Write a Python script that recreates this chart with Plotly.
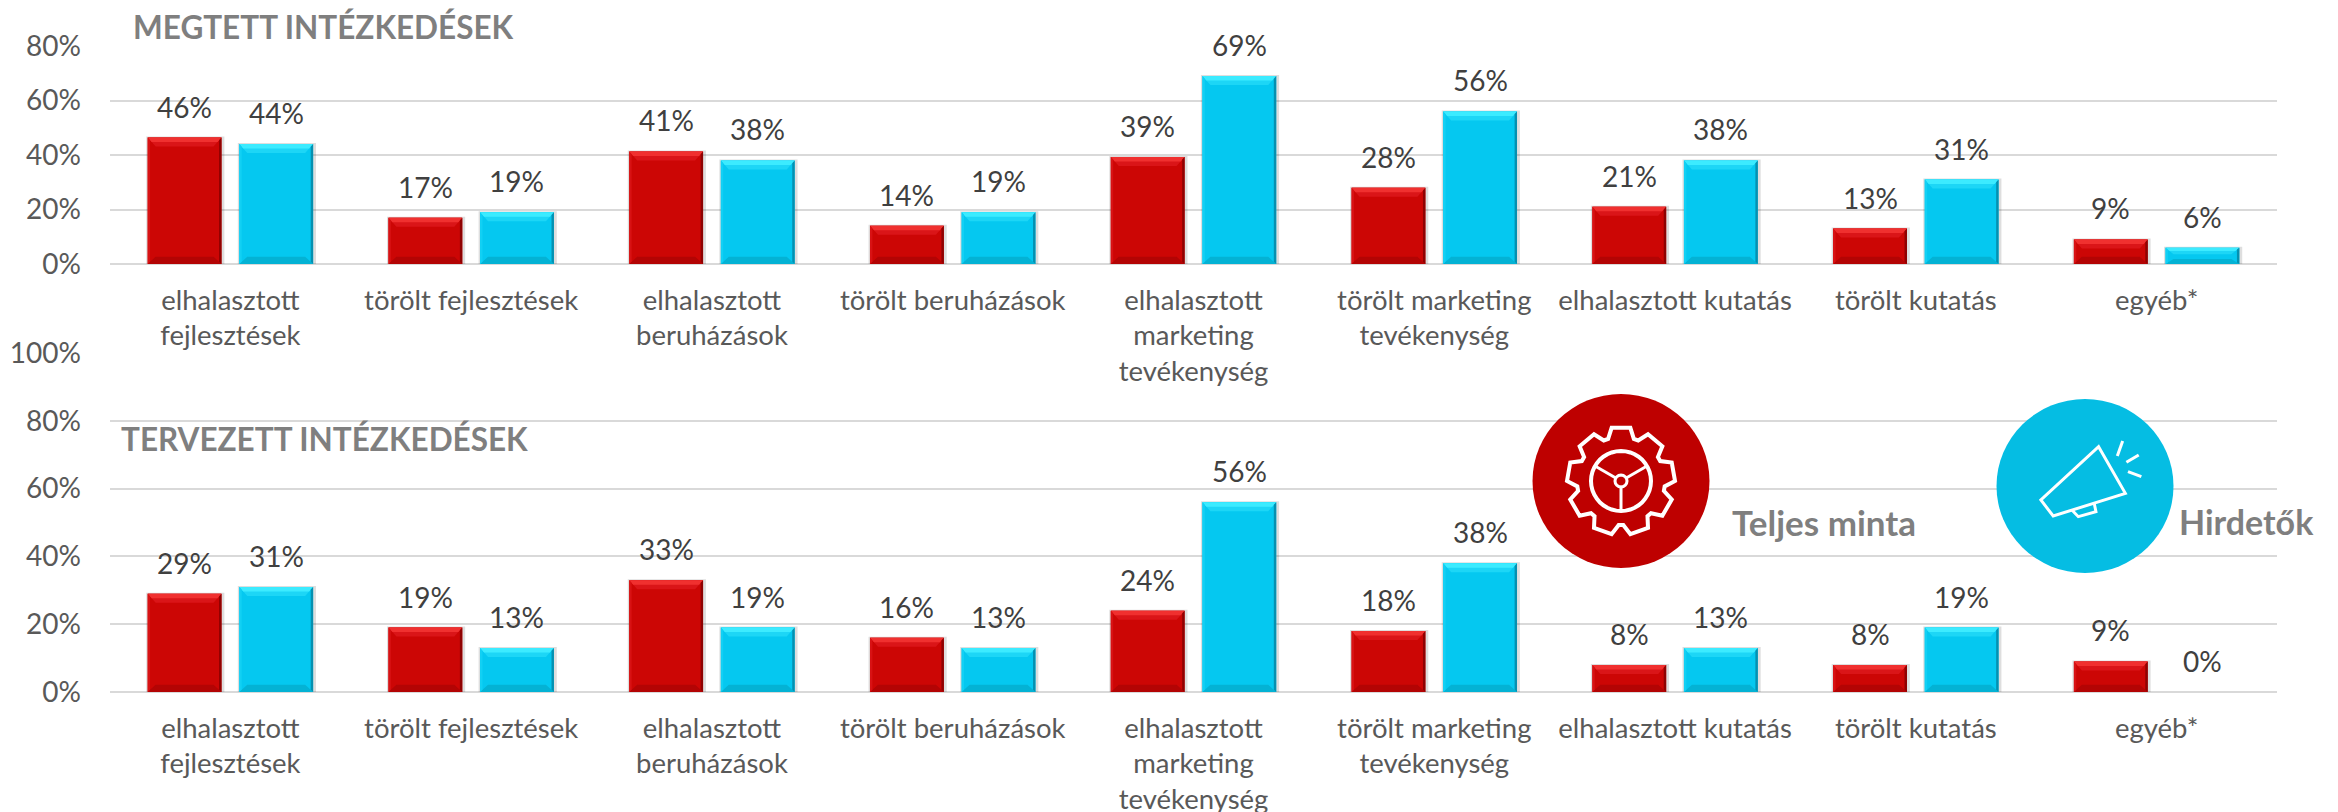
import math
import plotly.graph_objects as go

W, H = 2338, 812
categories = ["elhalasztott<br>fejlesztések", "törölt fejlesztések", "elhalasztott<br>beruházások",
              "törölt beruházások", "elhalasztott<br>marketing<br>tevékenység",
              "törölt marketing<br>tevékenység", "elhalasztott kutatás", "törölt kutatás", "egyéb*"]
top_teljes = [46.4, 17, 41.3, 14, 39.3, 28, 21, 13, 9]
top_hirdetok = [44, 19, 38, 19, 69, 56, 38, 31, 6]
bottom_teljes = [29, 19, 33, 16, 24, 18, 8, 8, 9]
bottom_hirdetok = [31, 13, 19, 13, 56, 38, 13, 19, 0]
y_ticks_top = [0, 20, 40, 60, 80]
y_ticks_bottom = [0, 20, 40, 60, 80, 100]

FONT = "Lato"
GRID = "#d9d9d9"
RED = dict(main="#CC0605", top="#F0302F", top2="#DA1518", bottom="#B30404", right="#8E0202", left="#D81214")
BLUE = dict(main="#05C8F0", top="#3CEBFF", top2="#1DD6F6", bottom="#04B2D4", right="#0590B0", left="#12D0F4")

L, R, T, B = 110, 2277, 46, 692
plot_h = B - T
top_axis_px = 264
bottom_axis_top_px = 353
dom_top = [(B - top_axis_px) / plot_h, 1]
dom_bot = [0, (B - bottom_axis_top_px) / plot_h]

BAR_GAP, GROUP_GAP = 0.239, 0.194
slot = (1 - BAR_GAP) / 2
bar_w = slot * (1 - GROUP_GAP)
offset = slot / 2


def px(x):
    return (x - L) / (R - L)


def py(y):
    return (B - y) / plot_h


fig = go.Figure()
shapes, annos = [], []


def add_panel(red_vals, blue_vals, xa, ya, y_per_px):
    xs = list(range(len(categories)))
    for name, vals, pal, sign in (("Teljes minta", red_vals, RED, -1), ("Hirdetők", blue_vals, BLUE, 1)):
        fig.add_trace(go.Bar(x=xs, y=vals, name=name, marker=dict(color=pal["main"], line=dict(width=0)),
                             xaxis=xa, yaxis=ya, showlegend=False))
        bx, by = 8 / (R - L) * len(categories), 9 * y_per_px
        polys = dict(top=[], top2=[], bottom=[], right=[], left=[])
        for i, v in zip(xs, vals):
            c = i + sign * offset
            annos.append(dict(x=c, y=v, xref=xa, yref=ya, text=f"{round(v)}%", showarrow=False, yshift=31,
                              font=dict(family=FONT, size=28, color="#404040")))
            if v <= 0:
                continue
            x0, x1 = c - bar_w / 2, c + bar_w / 2
            t = min(by, v * 0.4)
            b = min(by * 0.8, v * 0.3)
            polys["top2"] += [x0, v, x1, v, x1 - bx, v - t, x0 + bx, v - t, x0, v, None, None]
            polys["top"] += [x0, v, x1, v, x1 - bx * 0.5, v - t * 0.5, x0 + bx * 0.5, v - t * 0.5, x0, v, None, None]
            polys["bottom"] += [x0, 0, x1, 0, x1 - bx, b, x0 + bx, b, x0, 0, None, None]
            side = bx * 0.3
            polys["right"] += [x1, 0, x1, v, x1 - side, v - t * 0.3, x1 - side, b * 0.3, x1, 0, None, None]
            polys["left"] += [x0, 0, x0, v, x0 + side, v - t * 0.3, x0 + side, b * 0.3, x0, 0, None, None]
            shapes.append(dict(type="rect", xref=xa, yref=ya, layer="between",
                               x0=x0 - 0.006, x1=x1 + 0.012, y0=-2.0 * y_per_px, y1=v + 1 * y_per_px,
                               fillcolor="rgba(0,0,0,0.13)", line_width=0))
        for k in ("top2", "top", "bottom", "right", "left"):
            p = polys[k]
            fig.add_trace(go.Scatter(x=p[0::2], y=p[1::2], mode="lines", fill="toself", fillcolor=pal[k],
                                     line=dict(width=0), hoverinfo="skip", showlegend=False,
                                     xaxis=xa, yaxis=ya))


px_per_pct_top = (top_axis_px - T) / 80
px_per_pct_bot = (B - bottom_axis_top_px) / 100
add_panel(top_teljes, top_hirdetok, "x", "y", 1 / px_per_pct_top)
add_panel(bottom_teljes, bottom_hirdetok, "x2", "y2", 1 / px_per_pct_bot)


def text(x, y, s, size=31.5, color="#7f7f7f", bold=True, xanchor="left"):
    annos.append(dict(x=px(x), y=py(y), xref="paper", yref="paper", text=f"<b>{s}</b>" if bold else s,
                      showarrow=False, xanchor=xanchor, yanchor="middle",
                      font=dict(family=FONT, size=size, color=color)))


text(131, 27, "MEGTETT INTÉZKEDÉSEK")
text(119, 439, "TERVEZETT INTÉZKEDÉSEK")
text(1730, 522, "Teljes minta", size=35)
text(2177, 521, "Hirdetők", size=34)


def circle(cx, cy, rx, ry, color):
    shapes.append(dict(type="circle", xref="paper", yref="paper", x0=px(cx - rx), x1=px(cx + rx),
                       y0=py(cy + ry), y1=py(cy - ry), fillcolor=color, line_width=0, layer="above"))


def path(points, close=False, width=3):
    d = "M " + " L ".join(f"{px(x):.5f},{py(y):.5f}" for x, y in points) + (" Z" if close else "")
    shapes.append(dict(type="path", xref="paper", yref="paper", path=d, layer="above",
                       line=dict(color="white", width=width)))


gx, gy = 1621, 481
circle(gx, gy, 88.5, 87, "#BE0000")
mx, my = 2085, 486
circle(mx, my, 88.5, 87, "#05BDE3")

# gear outline
N, ro, ri = 9, 54, 44
pts = []
for k in range(N):
    a = 2 * math.pi * k / N - math.pi / 2
    s = 2 * math.pi / N
    for da, r in ((-0.34, ri), (-0.2, ro), (0.2, ro), (0.34, ri)):
        pts.append((gx + r * math.cos(a + da * s * 1.25), gy + r * math.sin(a + da * s * 1.25)))
path(pts, True, 4)
ring = [(gx + 30 * math.cos(t / 40 * 2 * math.pi), gy + 30 * math.sin(t / 40 * 2 * math.pi)) for t in range(40)]
path(ring, True, 4)
hub = [(gx + 6 * math.cos(t / 16 * 2 * math.pi), gy + 6 * math.sin(t / 16 * 2 * math.pi)) for t in range(16)]
path(hub, True, 3)
for ang in (90, 210, 330):
    a = math.radians(ang)
    path([(gx + 6 * math.cos(a), gy + 6 * math.sin(a)), (gx + 30 * math.cos(a), gy + 30 * math.sin(a))], False, 3)


def mega(zx, zy):
    return (1500 + zx / 1.871, 380 + zy / 3)


path([mega(*p) for p in ((1120, 200), (1170, 340), (1035, 408), (1012, 360))], True, 3)
path([mega(*p) for p in ((1070, 390), (1082, 410), (1115, 395), (1112, 372))], False, 3)
path([mega(1165, 183), mega(1155, 228)], False, 3)
path([mega(1195, 225), mega(1172, 247)], False, 3)
path([mega(1175, 275), mega(1200, 290)], False, 3)

xcommon = dict(range=[-0.5, 8.5], tickmode="array", tickvals=list(range(9)), ticktext=categories,
               showgrid=False, zeroline=False, showline=False, ticks="", ticklabelstandoff=17,
               tickfont=dict(family=FONT, size=27.5, color="#595959"), ticklen=0)
ycommon = dict(showgrid=True, gridcolor=GRID, gridwidth=2, zeroline=True, zerolinecolor=GRID, zerolinewidth=2,
               showline=False, ticks="", tickmode="array", ticklabelstandoff=28,
               tickfont=dict(family=FONT, size=28, color="#595959"))

fig.update_layout(
    width=W, height=H, margin=dict(l=L, r=W - R, t=T, b=H - B, autoexpand=False),
    paper_bgcolor="white", plot_bgcolor="white", barmode="group", bargap=BAR_GAP, bargroupgap=GROUP_GAP,
    xaxis=dict(xcommon, anchor="y", domain=[0, 1]),
    yaxis=dict(ycommon, domain=dom_top, range=[0, 80], tickvals=y_ticks_top,
               ticktext=[f"{v}%" for v in y_ticks_top]),
    xaxis2=dict(xcommon, anchor="y2", domain=[0, 1]),
    yaxis2=dict(ycommon, domain=dom_bot, range=[0, 100], tickvals=y_ticks_bottom,
                ticktext=[f"{v}%" for v in y_ticks_bottom]),
    shapes=shapes, annotations=annos, showlegend=False,
)
fig.write_html("out.html", config=dict(displayModeBar=False), post_script="document.body.style.margin='0';")
